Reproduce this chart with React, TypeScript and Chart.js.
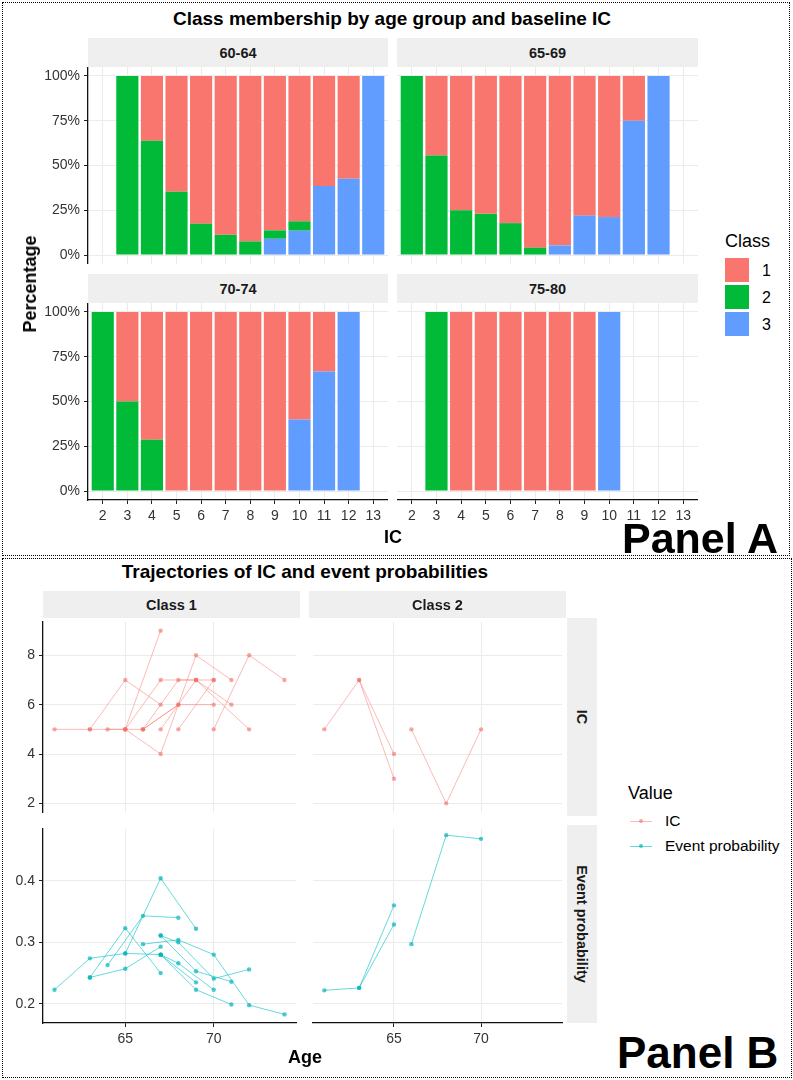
import React, { useEffect, useRef } from "react";
import { Chart, registerables } from "chart.js";

Chart.register(...registerables);

const FONT = '"Liberation Sans", Arial, Helvetica, sans-serif';

// ---------------- Panel A data ----------------
const icValues = [2, 3, 4, 5, 6, 7, 8, 9, 10, 11, 12, 13];
const ageGroups = ["60-64", "65-69", "70-74", "75-80"];
const classLabels = ["1", "2", "3"];
const classColors = ["#F8766D", "#00BA38", "#619CFF"];

// percentage of each class at IC = 2..13 (null = nobody with that IC)
const class1_6064 = [null, null, 36.2, 64.7, 82.5, 88.7, 92.4, 86.2, 81.2, 61.5, 57.4, null];
const class2_6064 = [null, 100, 63.8, 35.3, 17.5, 11.3, 7.6, 4.7, 5.2, null, null, null];
const class3_6064 = [null, null, null, null, null, null, null, 9.1, 13.6, 38.5, 42.6, 100];

const class1_6569 = [null, 44.4, 75, 77, 82.2, 95.9, 94.6, 78, 78.8, 25, null, null];
const class2_6569 = [100, 55.6, 25, 23, 17.8, 4.1, null, null, null, null, null, null];
const class3_6569 = [null, null, null, null, null, null, 5.4, 22, 21.2, 75, 100, null];

const class1_7074 = [null, 50, 71.4, 100, 100, 100, 100, 100, 60, 33.3, null, null];
const class2_7074 = [100, 50, 28.6, null, null, null, null, null, null, null, null, null];
const class3_7074 = [null, null, null, null, null, null, null, null, 40, 66.7, 100, null];

const class1_7580 = [null, null, 100, 100, 100, 100, 100, 100, null, null, null, null];
const class2_7580 = [null, 100, null, null, null, null, null, null, null, null, null, null];
const class3_7580 = [null, null, null, null, null, null, null, null, 100, null, null, null];

const class1ByGroup = [class1_6064, class1_6569, class1_7074, class1_7580];
const class2ByGroup = [class2_6064, class2_6569, class2_7074, class2_7580];
const class3ByGroup = [class3_6064, class3_6569, class3_7074, class3_7580];

const pctTicks = [0, 25, 50, 75, 100];

// ---------------- Panel B data ----------------
// each trajectory: [age, value] pairs
const class1IC = [
  [[61, 5], [63, 5], [65, 5]],
  [[63, 5], [65, 7], [67, 6]],
  [[64, 5], [66, 5], [68, 6], [70, 6]],
  [[65, 5], [67, 9]],
  [[65, 5], [67, 4], [69, 8], [71, 7]],
  [[65, 5], [67, 7], [69, 7], [72, 5]],
  [[66, 5], [68, 6]],
  [[66, 5], [68, 7], [69, 7], [71, 6]],
  [[67, 5], [69, 7], [70, 7]],
  [[68, 5], [70, 7]],
  [[70, 5], [72, 8], [74, 7]],
];
const class2IC = [
  [[61, 5], [63, 7], [65, 4]],
  [[63, 7], [65, 3]],
  [[66, 5], [68, 2], [70, 5]],
];
const class1Event = [
  [[61, 0.223], [63, 0.274], [65, 0.282], [67, 0.28], [69, 0.235]],
  [[63, 0.243], [65, 0.257], [67, 0.293]],
  [[63, 0.243], [65, 0.323], [67, 0.25]],
  [[64, 0.263], [66, 0.343], [68, 0.34]],
  [[65, 0.282], [67, 0.404], [69, 0.322]],
  [[66, 0.297], [68, 0.304], [70, 0.28], [72, 0.198], [74, 0.183]],
  [[67, 0.311], [68, 0.3], [70, 0.241], [72, 0.256]],
  [[67, 0.311], [69, 0.253], [71, 0.236]],
  [[67, 0.28], [68, 0.266], [70, 0.223]],
  [[67, 0.28], [69, 0.223], [71, 0.199]],
];
const class2Event = [
  [[61, 0.222], [63, 0.226], [65, 0.329]],
  [[63, 0.226], [65, 0.36]],
  [[66, 0.297], [68, 0.474], [70, 0.468]],
];
const ageTicks = [65, 70];
const icTicks = [2, 4, 6, 8];
const eventTicks = [0.2, 0.3, 0.4];
const classFacets = ["Class 1", "Class 2"];
const rowFacets = ["IC", "Event probability"];
const valueLabels = ["IC", "Event probability"];

const IC_LINE = "rgba(248,118,109,0.5)";
const IC_POINT = "rgba(240,110,100,0.6)";
const EV_LINE = "rgba(0,191,196,0.6)";
const EV_POINT = "rgba(0,180,186,0.7)";

// ---------------- helpers ----------------
function makeScale(o: {
  min: number;
  max: number;
  ticks: number[];
  fmt: (v: number) => string;
  labels: boolean;
  border: boolean;
  size: number;
  vertical: boolean;
  stacked?: boolean;
}) {
  return {
    type: "linear",
    min: o.min,
    max: o.max,
    stacked: o.stacked,
    offset: false,
    afterBuildTicks: (s: any) => {
      s.ticks = o.ticks.map((v) => ({ value: v }));
    },
    afterFit: (s: any) => {
      if (o.vertical) s.width = o.size;
      else s.height = o.size;
      s.paddingTop = 0;
      s.paddingBottom = 0;
      s.paddingLeft = 0;
      s.paddingRight = 0;
    },
    ticks: {
      display: o.labels,
      callback: (v: any) => o.fmt(Number(v)),
      font: { family: FONT, size: 14 },
      color: "#333333",
      padding: 4,
      autoSkip: false,
      maxRotation: 0,
      minRotation: 0,
    },
    grid: {
      offset: false,
      color: "#EBEBEB",
      lineWidth: 1,
      drawTicks: o.border,
      tickLength: 4,
      tickColor: "#222222",
    },
    border: { display: o.border, color: "#111111", width: 1.3 },
  };
}

function ChartCanvas(props: { left: number; top: number; width: number; height: number; make: () => any }) {
  const ref = useRef<HTMLCanvasElement | null>(null);
  useEffect(() => {
    if (!ref.current) return;
    const chart = new Chart(ref.current, props.make());
    return () => chart.destroy();
  }, []);
  return (
    <canvas
      ref={ref}
      width={props.width}
      height={props.height}
      style={{ position: "absolute", left: props.left, top: props.top, width: props.width, height: props.height }}
    />
  );
}

function barConfig(idx: number) {
  const col = idx % 2;
  const row = Math.floor(idx / 2);
  const series = [class3ByGroup[idx], class2ByGroup[idx], class1ByGroup[idx]];
  const colors = [classColors[2], classColors[1], classColors[0]];
  const names = [classLabels[2], classLabels[1], classLabels[0]];
  return {
    type: "bar",
    data: {
      datasets: series.map((arr, k) => ({
        label: names[k],
        data: icValues
          .map((ic, i) => ({ x: ic, y: arr[i] }))
          .filter((d) => d.y !== null),
        backgroundColor: colors[k],
        borderWidth: 0,
        barPercentage: 0.9,
        categoryPercentage: 1,
        stack: "s",
      })),
    },
    options: {
      animation: false,
      responsive: false,
      layout: { padding: 0 },
      plugins: { legend: { display: false }, tooltip: { enabled: false } },
      scales: {
        x: makeScale({
          min: 1.4,
          max: 13.6,
          ticks: icValues,
          fmt: (v) => String(v),
          labels: row === 1,
          border: row === 1,
          size: row === 1 ? 30 : 0,
          vertical: false,
          stacked: true,
        }),
        y: makeScale({
          min: -5,
          max: 105,
          ticks: pctTicks,
          fmt: (v) => `${v}%`,
          labels: col === 0,
          border: col === 0,
          size: col === 0 ? 60 : 0,
          vertical: true,
          stacked: true,
        }),
      },
    },
  };
}

function lineConfig(trajs: number[][][], isIC: boolean, col: number) {
  return {
    type: "line",
    data: {
      datasets: trajs.map((t) => ({
        data: t.map(([x, y]) => ({ x, y })),
        borderColor: isIC ? IC_LINE : EV_LINE,
        backgroundColor: isIC ? IC_POINT : EV_POINT,
        pointBackgroundColor: isIC ? IC_POINT : EV_POINT,
        pointBorderWidth: 0,
        pointRadius: 2.2,
        borderWidth: 1,
        tension: 0,
        fill: false,
      })),
    },
    options: {
      animation: false,
      responsive: false,
      layout: { padding: 0 },
      plugins: { legend: { display: false }, tooltip: { enabled: false } },
      scales: {
        x: makeScale({
          min: 60.35,
          max: 74.65,
          ticks: ageTicks,
          fmt: (v) => String(v),
          labels: !isIC,
          border: !isIC,
          size: isIC ? 0 : 30,
          vertical: false,
        }),
        y: isIC
          ? makeScale({
              min: 1.65,
              max: 9.35,
              ticks: icTicks,
              fmt: (v) => String(v),
              labels: col === 0,
              border: col === 0,
              size: col === 0 ? 43 : 0,
              vertical: true,
            })
          : makeScale({
              min: 0.169,
              max: 0.484,
              ticks: eventTicks,
              fmt: (v) => v.toFixed(1),
              labels: col === 0,
              border: col === 0,
              size: col === 0 ? 43 : 0,
              vertical: true,
            }),
      },
    },
  };
}

function Text(props: {
  x: number;
  y: number;
  text: string;
  size: number;
  bold?: boolean;
  rotate?: number;
  anchor?: "center" | "left";
  color?: string;
}) {
  const anchor = props.anchor || "center";
  const tr =
    anchor === "center"
      ? `translate(-50%,-50%) rotate(${props.rotate || 0}deg)`
      : `translate(0,-50%)`;
  return (
    <div
      style={{
        position: "absolute",
        left: props.x,
        top: props.y,
        transform: tr,
        fontFamily: FONT,
        fontSize: props.size,
        fontWeight: props.bold ? 700 : 400,
        lineHeight: 1,
        whiteSpace: "nowrap",
        color: props.color || "#000",
      }}
    >
      {props.text}
    </div>
  );
}

function Strip(props: { left: number; top: number; width: number; height: number; text: string; vertical?: boolean }) {
  return (
    <div
      style={{
        position: "absolute",
        left: props.left,
        top: props.top,
        width: props.width,
        height: props.height,
        background: "#EFEFEF",
      }}
    >
      <div
        style={{
          position: "absolute",
          left: "50%",
          top: "50%",
          transform: `translate(-50%,-50%) rotate(${props.vertical ? 90 : 0}deg)`,
          fontFamily: FONT,
          fontSize: 14.5,
          fontWeight: 700,
          lineHeight: 1,
          whiteSpace: "nowrap",
          color: "#1A1A1A",
        }}
      >
        {props.text}
      </div>
    </div>
  );
}

// facet geometry (plot areas)
const aCols = [
  { left: 88, width: 300 },
  { left: 397, width: 301 },
];
const aRows = [
  { top: 67, height: 197 },
  { top: 303, height: 197 },
];
const bCols = [
  { left: 43, width: 257 },
  { left: 309, width: 257 },
];
const bRows = [
  { top: 618, height: 198 },
  { top: 825, height: 198 },
];

export default function App() {
  useEffect(() => {
    document.body.style.margin = "0";
  }, []);

  const aCharts = ageGroups.map((g, idx) => {
    const col = idx % 2;
    const row = Math.floor(idx / 2);
    const yW = col === 0 ? 60 : 0;
    const xH = row === 1 ? 30 : 0;
    return (
      <ChartCanvas
        key={"a" + g}
        left={aCols[col].left - yW}
        top={aRows[row].top}
        width={aCols[col].width + yW}
        height={aRows[row].height + xH}
        make={() => barConfig(idx)}
      />
    );
  });

  const bData = [
    [class1IC, class2IC],
    [class1Event, class2Event],
  ];
  const bCharts: any[] = [];
  for (let row = 0; row < 2; row++) {
    for (let col = 0; col < 2; col++) {
      const yW = col === 0 ? 43 : 0;
      const xH = row === 1 ? 30 : 0;
      bCharts.push(
        <ChartCanvas
          key={"b" + row + col}
          left={bCols[col].left - yW}
          top={bRows[row].top}
          width={bCols[col].width + yW}
          height={bRows[row].height + xH}
          make={() => lineConfig(bData[row][col], row === 0, col)}
        />
      );
    }
  }

  return (
    <div style={{ position: "absolute", left: 0, top: 0, width: 793, height: 1080, background: "#fff", overflow: "hidden" }}>
      {/* dotted frames */}
      <div style={{ position: "absolute", left: 2, top: 2, width: 786, height: 552, border: "1px dotted #000" }} />
      <div style={{ position: "absolute", left: 2, top: 558, width: 788, height: 518, border: "1px dotted #000" }} />

      {/* Panel A */}
      <Text x={392} y={18} text="Class membership by age group and baseline IC" size={19} bold />
      {ageGroups.map((g, idx) => {
        const col = idx % 2;
        const row = Math.floor(idx / 2);
        return (
          <Strip
            key={"sa" + g}
            left={aCols[col].left}
            top={aRows[row].top - 29}
            width={aCols[col].width}
            height={29}
            text={g}
          />
        );
      })}
      {aCharts}
      <Text x={30} y={284} text="Percentage" size={18} bold rotate={-90} />
      <Text x={393} y={537} text="IC" size={18} bold />
      <Text x={725} y={241} text="Class" size={18} anchor="left" />
      {classLabels.map((c, i) => (
        <React.Fragment key={"lg" + c}>
          <div
            style={{
              position: "absolute",
              left: 725,
              top: 258 + i * 27,
              width: 24,
              height: 24,
              background: classColors[i],
            }}
          />
          <Text x={762} y={271 + i * 27} text={c} size={16} anchor="left" />
        </React.Fragment>
      ))}
      <Text x={622} y={538} text="Panel A" size={43} bold anchor="left" />

      {/* Panel B */}
      <Text x={305} y={571} text="Trajectories of IC and event probabilities" size={19} bold />
      {classFacets.map((c, col) => (
        <Strip key={"sb" + c} left={bCols[col].left} top={591} width={bCols[col].width} height={27} text={c} />
      ))}
      {rowFacets.map((r, row) => (
        <Strip key={"sr" + r} left={567} top={bRows[row].top} width={30} height={bRows[row].height} text={r} vertical />
      ))}
      {bCharts}
      <Text x={305} y={1057} text="Age" size={18} bold />
      <Text x={628} y={793} text="Value" size={18} anchor="left" />
      {valueLabels.map((v, i) => {
        const y = 821 + i * 25;
        const line = i === 0 ? IC_LINE : EV_LINE;
        const pt = i === 0 ? IC_POINT : EV_POINT;
        return (
          <React.Fragment key={"vl" + v}>
            <div style={{ position: "absolute", left: 630, top: y - 0.5, width: 22, height: 1, background: line }} />
            <div
              style={{
                position: "absolute",
                left: 639,
                top: y - 2.2,
                width: 4.4,
                height: 4.4,
                borderRadius: "50%",
                background: pt,
              }}
            />
            <Text x={665} y={y} text={v} size={15.5} anchor="left" />
          </React.Fragment>
        );
      })}
      <Text x={617} y={1053} text="Panel B" size={44} bold anchor="left" />
    </div>
  );
}
